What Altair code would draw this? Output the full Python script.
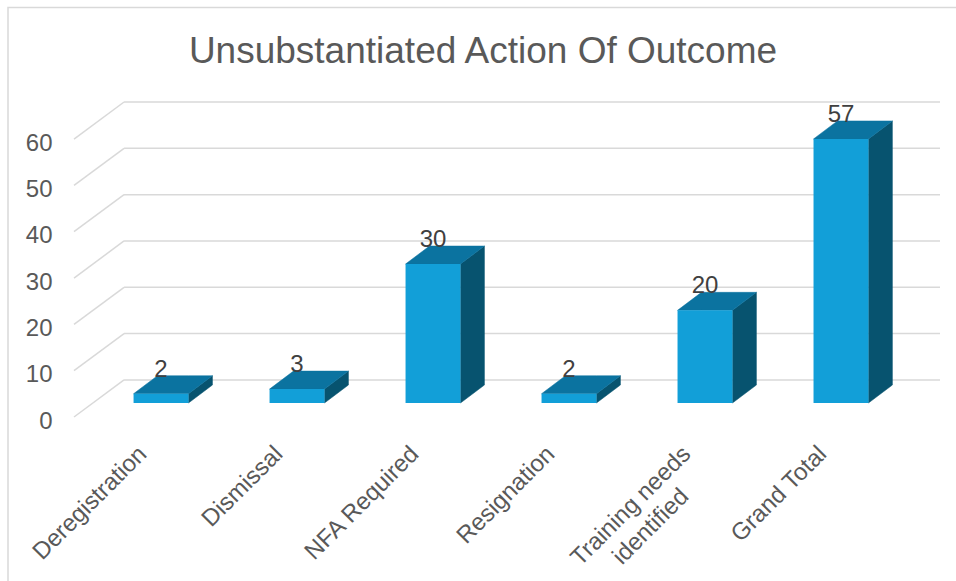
import altair as alt
import pandas as pd

categories = ["Deregistration", "Dismissal", "NFA Required", "Resignation",
              "Training needs\nidentified", "Grand Total"]
counts = [2, 3, 30, 2, 20, 57]
y_ticks = [0, 10, 20, 30, 40, 50, 60]

# 3-D geometry in axis units (x: one unit per category slot, y: value units)
WALL_DX, WALL_DY = 0.368, 8.0      # depth of the side and back walls
FACE_DX, FACE_DY = 0.14, 3.02      # how far behind the floor edge the column fronts sit
BAR_DX, BAR_DY = 0.176, 3.89       # depth of each column
BAR_W = 0.404                      # width of a column's front face
X_MAX = len(categories) + WALL_DX
Y_MAX = max(y_ticks) + WALL_DY

W, H = 866, 315
FRONT, TOP, SIDE = "#129FD8", "#0B73A0", "#07536F"
GRID, TEXT, LABEL = "#D9D9D9", "#595959", "#404040"
FONT = "Liberation Sans"
FS = 24

# Arial / Liberation Sans advance widths (1/1000 em), used to centre wrapped label lines
ADV = {"T": 611, "r": 333, "a": 556, "i": 222, "n": 556, "g": 556, " ": 278,
       "e": 556, "d": 556, "s": 500, "t": 278, "f": 278}


def text_width(s, size):
    return sum(ADV.get(c, 556) for c in s) * size / 1000


front_rows, top_rows, side_rows, val_rows = [], [], [], []
for i, (cat, v) in enumerate(zip(categories, counts)):
    cx = i + 0.5 + FACE_DX
    x0, x1 = cx - BAR_W / 2, cx + BAR_W / 2
    y0, y1 = FACE_DY, FACE_DY + v
    front_rows.append(dict(cat=cat, value=v, x0=x0, x1=x1, y0=y0, y1=y1))
    for px, lo, hi in [(x0, y1, y1), (x0 + BAR_DX, y1, y1 + BAR_DY),
                       (x1, y1, y1 + BAR_DY), (x1 + BAR_DX, y1 + BAR_DY, y1 + BAR_DY)]:
        top_rows.append(dict(cat=cat, x=px, lo=lo, hi=hi))
    for px, lo, hi in [(x1, y0, y1), (x1 + BAR_DX, y0 + BAR_DY, y1 + BAR_DY)]:
        side_rows.append(dict(cat=cat, x=px, lo=lo, hi=hi))
    val_rows.append(dict(cat=cat, value=v, x=cx, y=y1 + BAR_DY))

first_lines, second_lines = [], []
for i, cat in enumerate(categories):
    parts = cat.split("\n")
    first_lines.append(dict(x=i + 0.5, y=0, text=parts[0]))
    if len(parts) > 1:
        shift = (text_width(parts[0], FS) - text_width(parts[1], FS)) / 2
        second_lines.append(dict(x=i + 0.5, y=0, text=parts[1], shift=shift))

xs = alt.Scale(domain=[0, X_MAX], nice=False, zero=False)
ys = alt.Scale(domain=[0, Y_MAX], nice=False, zero=False)

# one value axis, shared by every layer (labels sit on the front plane)
Y_AXIS = alt.Axis(values=y_ticks, grid=False, domain=False, ticks=False,
                  labelFont=FONT, labelFontSize=FS, labelColor=TEXT,
                  labelPadding=22, labelOffset=4)


def X(field):
    return alt.X(field, scale=xs, axis=None, title=None)


def Y(field):
    return alt.Y(field, scale=ys, axis=Y_AXIS, title=None)


grid_src = alt.Chart(pd.DataFrame({"v": y_ticks})).transform_calculate(
    yb=f"datum.v + {WALL_DY}", xa=f"{WALL_DX}", xb=f"{X_MAX}", x0="0")

back_grid = grid_src.mark_rule(color=GRID, strokeWidth=1.5).encode(
    x=X("xa:Q"), x2="xb:Q", y=Y("yb:Q"))
side_grid = grid_src.mark_rule(color=GRID, strokeWidth=1.5).encode(
    x=X("x0:Q"), x2="xa:Q", y=Y("v:Q"), y2="yb:Q")

side_face = alt.Chart(pd.DataFrame(side_rows)).mark_area(
    color=SIDE, stroke=SIDE, strokeWidth=0.5).encode(
    x=X("x:Q"), y=Y("lo:Q"), y2="hi:Q", detail="cat:N")
top_face = alt.Chart(pd.DataFrame(top_rows)).mark_area(
    color=TOP, stroke=TOP, strokeWidth=0.5).encode(
    x=X("x:Q"), y=Y("lo:Q"), y2="hi:Q", detail="cat:N")
front_face = alt.Chart(pd.DataFrame(front_rows)).mark_rect(color=FRONT).encode(
    x=X("x0:Q"), x2="x1:Q", y=Y("y0:Q"), y2="y1:Q")

values = alt.Chart(pd.DataFrame(val_rows)).mark_text(
    font=FONT, fontSize=FS, color=LABEL, baseline="alphabetic", dy=1).encode(
    x=X("x:Q"), y=Y("y:Q"), text="value:Q")

# category labels, rotated 45 degrees up to the right
cat_a = alt.Chart(pd.DataFrame(first_lines)).mark_text(
    font=FONT, fontSize=FS, color=TEXT, angle=315, align="right", baseline="top",
    dx=-23, dy=12.4).encode(x=X("x:Q"), y=Y("y:Q"), text="text:N")
layers = [cat_a]
for row in second_lines:
    layers.append(alt.Chart(pd.DataFrame([row])).mark_text(
        font=FONT, fontSize=FS, color=TEXT, angle=315, align="right", baseline="top",
        dx=-23 - row["shift"], dy=12.4 + 28.5).encode(
        x=X("x:Q"), y=Y("y:Q"), text="text:N"))

# chart-area frame
frame = alt.Chart(pd.DataFrame({"k": [0]})).mark_rect(
    fillOpacity=0, stroke=GRID, strokeWidth=1.5).encode(
    x=alt.value(-66), x2=alt.value(W + 60), y=alt.value(-94.5), y2=alt.value(H + 220))

chart = alt.layer(
    frame, back_grid, side_grid, side_face, top_face, front_face, values, *layers
).properties(
    width=W, height=H,
    title=alt.Title("Unsubstantiated Action Of Outcome", font=FONT, fontSize=37,
                    fontWeight="normal", color=TEXT, anchor="middle", frame="group",
                    baseline="alphabetic", dx=-24, offset=-93),
    autosize=alt.AutoSizeParams(type="none"),
    padding={"left": 74, "top": 102, "right": 16, "bottom": 164},
    background="white",
).configure_view(stroke=None)

chart.save("out.html", embed_options={"renderer": "svg", "actions": False})
